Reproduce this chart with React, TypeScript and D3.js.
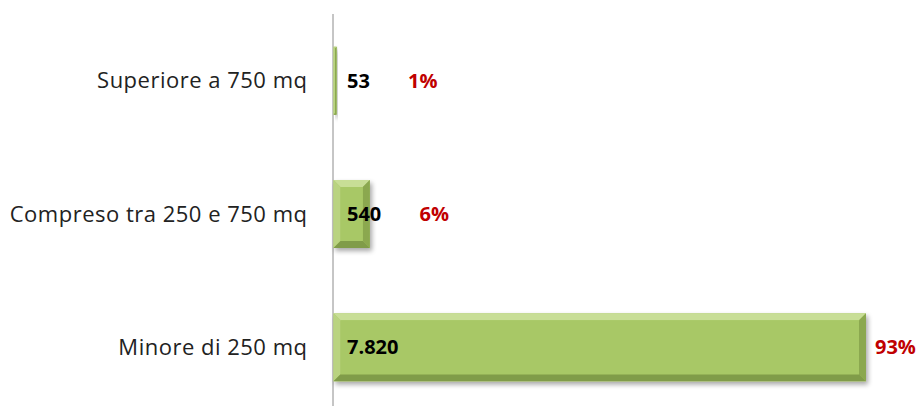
import * as d3 from "d3";

const categories = ["Superiore a 750 mq", "Compreso tra 250 e 750 mq", "Minore di 250 mq"];
const values = [53, 540, 7820];
const valueLabels = ["53", "540", "7.820"];
const percentLabels = ["1%", "6%", "93%"];

const W = 923;
const H = 406;
const axisX = 333;
const BEVEL = 7;

export default function App() {
  const x = d3.scaleLinear().domain([0, d3.max(values) as number]).range([axisX, 866]);
  const y = d3
    .scaleBand<string>()
    .domain(categories)
    .range([14, 414])
    .paddingInner(0.49)
    .paddingOuter(0.245);
  const bh = y.bandwidth();
  const fmtW = (s: string) => s.length * 11.5;

  return (
    <svg
      width={W}
      height={H}
      style={{ position: "absolute", left: 0, top: 0, background: "#fff" }}
      fontFamily="'Open Sans', sans-serif"
    >
      <defs>
        <filter id="sh" x="-10%" y="-20%" width="130%" height="160%">
          <feGaussianBlur in="SourceAlpha" stdDeviation="2.5" />
          <feOffset dx="2" dy="3" result="b" />
          <feComponentTransfer>
            <feFuncA type="linear" slope="0.35" />
          </feComponentTransfer>
          <feMerge>
            <feMergeNode />
            <feMergeNode in="SourceGraphic" />
          </feMerge>
        </filter>
      </defs>
      <line x1={axisX} x2={axisX} y1={14} y2={H} stroke="#8c8c8c" strokeWidth={1} />
      {categories.map((c, i) => {
        const x0 = axisX + 0.5;
        const x1 = x(values[i]);
        const y0 = y(c) as number;
        const y1 = y0 + bh;
        const w = x1 - x0;
        const b = Math.min(BEVEL, w / 2);
        const cy = y0 + bh / 2;
        const vx = axisX + 14;
        const px = Math.max(x1 + 9, vx + fmtW(valueLabels[i]) + 38);
        return (
          <g key={c}>
            <g filter="url(#sh)">
              <rect x={x0} y={y0} width={w} height={bh} fill="#a7c765" />
              <polygon points={`${x0},${y0} ${x1},${y0} ${x1 - b},${y0 + b} ${x0 + b},${y0 + b}`} fill="#c8de96" />
              <polygon points={`${x0},${y0} ${x0 + b},${y0 + b} ${x0 + b},${y1 - b} ${x0},${y1}`} fill="#b9d380" />
              <polygon points={`${x1},${y0} ${x1},${y1} ${x1 - b},${y1 - b} ${x1 - b},${y0 + b}`} fill="#8ba84f" />
              <polygon points={`${x0},${y1} ${x0 + b},${y1 - b} ${x1 - b},${y1 - b} ${x1},${y1}`} fill="#809c48" />
              <rect x={x0 + b} y={y0 + b} width={Math.max(0, w - 2 * b)} height={bh - 2 * b} fill="#a8c866" />
            </g>
            <text x={307.5} y={cy} dy="0.35em" textAnchor="end" fontSize={22} letterSpacing={0.5} fill="#222">
              {c}
            </text>
            <text x={vx} y={cy} dy="0.35em" fontSize={20} fontWeight="bold" fill="#000">
              {valueLabels[i]}
            </text>
            <text x={px} y={cy} dy="0.35em" fontSize={20} fontWeight="bold" fill="#c00000">
              {percentLabels[i]}
            </text>
          </g>
        );
      })}
    </svg>
  );
}
